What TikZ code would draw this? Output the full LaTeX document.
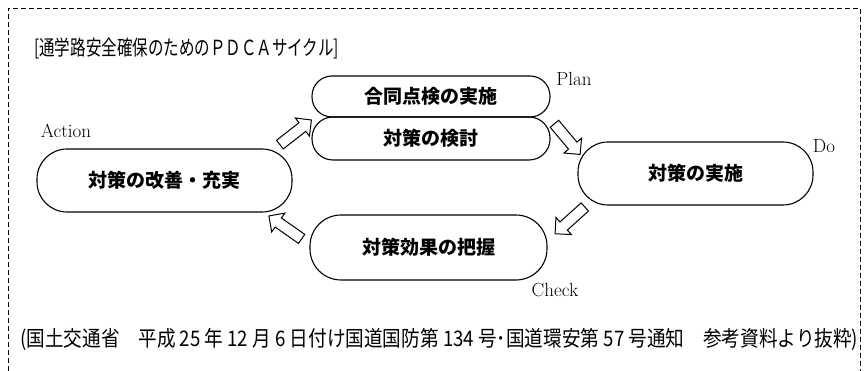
\documentclass[tikz,border=0pt]{standalone}
\usepackage{fontspec}
\newfontfamily\cjk{Noto Sans CJK JP}
\usetikzlibrary{shapes.arrows}
\begin{document}
\begin{tikzpicture}[x=1pt,y=-1pt,
  pill/.style={draw, line width=1.1pt, inner sep=0pt,
    font=\cjk\bfseries\fontsize{19}{19}\selectfont},
  blk/.style={draw, single arrow, line width=1pt, inner xsep=0pt, inner ysep=5pt,
    minimum height=40pt, single arrow head extend=6pt},
  lbl/.style={font=\fontsize{19}{19}\selectfont, inner sep=0pt}]
\useasboundingbox (0,0) rectangle (867,371);
% dashed frame (open at the bottom)
\coordinate (f1) at (8,371);
\coordinate (f2) at (8,8);
\coordinate (f3) at (860,8);
\coordinate (f4) at (860,371);
\draw[dashed, dash pattern=on 5pt off 3pt, line width=0.8pt] (f1) -- (f2) -- (f3) -- (f4);
% title
\node[anchor=west, inner sep=0pt] (title) at (34,48)
  {\scalebox{0.97}[1.3]{\cjk\fontsize{16}{16}\selectfont [通学路安全確保のためのＰＤＣＡサイクル]}};
% pills
\node[pill, minimum width=238pt, minimum height=41pt, rounded corners=20pt] (plan1) at (431,96.5) {合同点検の実施};
\node[pill, minimum width=238pt, minimum height=43pt, rounded corners=21pt] (plan2) at (431,138.5) {対策の検討};
\node[pill, minimum width=255pt, minimum height=63pt, rounded corners=30pt] (act) at (164.5,180.5) {対策の改善・充実};
\node[pill, minimum width=235pt, minimum height=63pt, rounded corners=30pt] (do) at (695.5,173.5) {対策の実施};
\node[pill, minimum width=237pt, minimum height=65pt, rounded corners=31pt] (chk) at (428.5,247.5) {対策効果の把握};
% labels
\node[lbl] (lplan) at (574,79) {Plan};
\node[lbl] (lact) at (66,131) {Action};
\node[lbl] (ldo) at (824,146) {Do};
\node[lbl] (lchk) at (555,290) {Check};
% block arrows
\node[blk, rotate=38] (a1) at (293.5,134) {};
\node[blk, rotate=-50] (a2) at (565.5,137) {};
\node[blk, rotate=222] (a3) at (572,218.5) {};
\node[blk, rotate=145] (a4) at (287.5,229) {};
% footer
\node[anchor=west, inner sep=0pt] (foot) at (20,340)
  {\resizebox{838pt}{!}{\scalebox{1}[1.15]{\cjk (国土交通省　平成 25 年 12 月 6 日付け国道国防第 134 号･国道環安第 57 号通知　参考資料より抜粋)}}};
\end{tikzpicture}
\end{document}
